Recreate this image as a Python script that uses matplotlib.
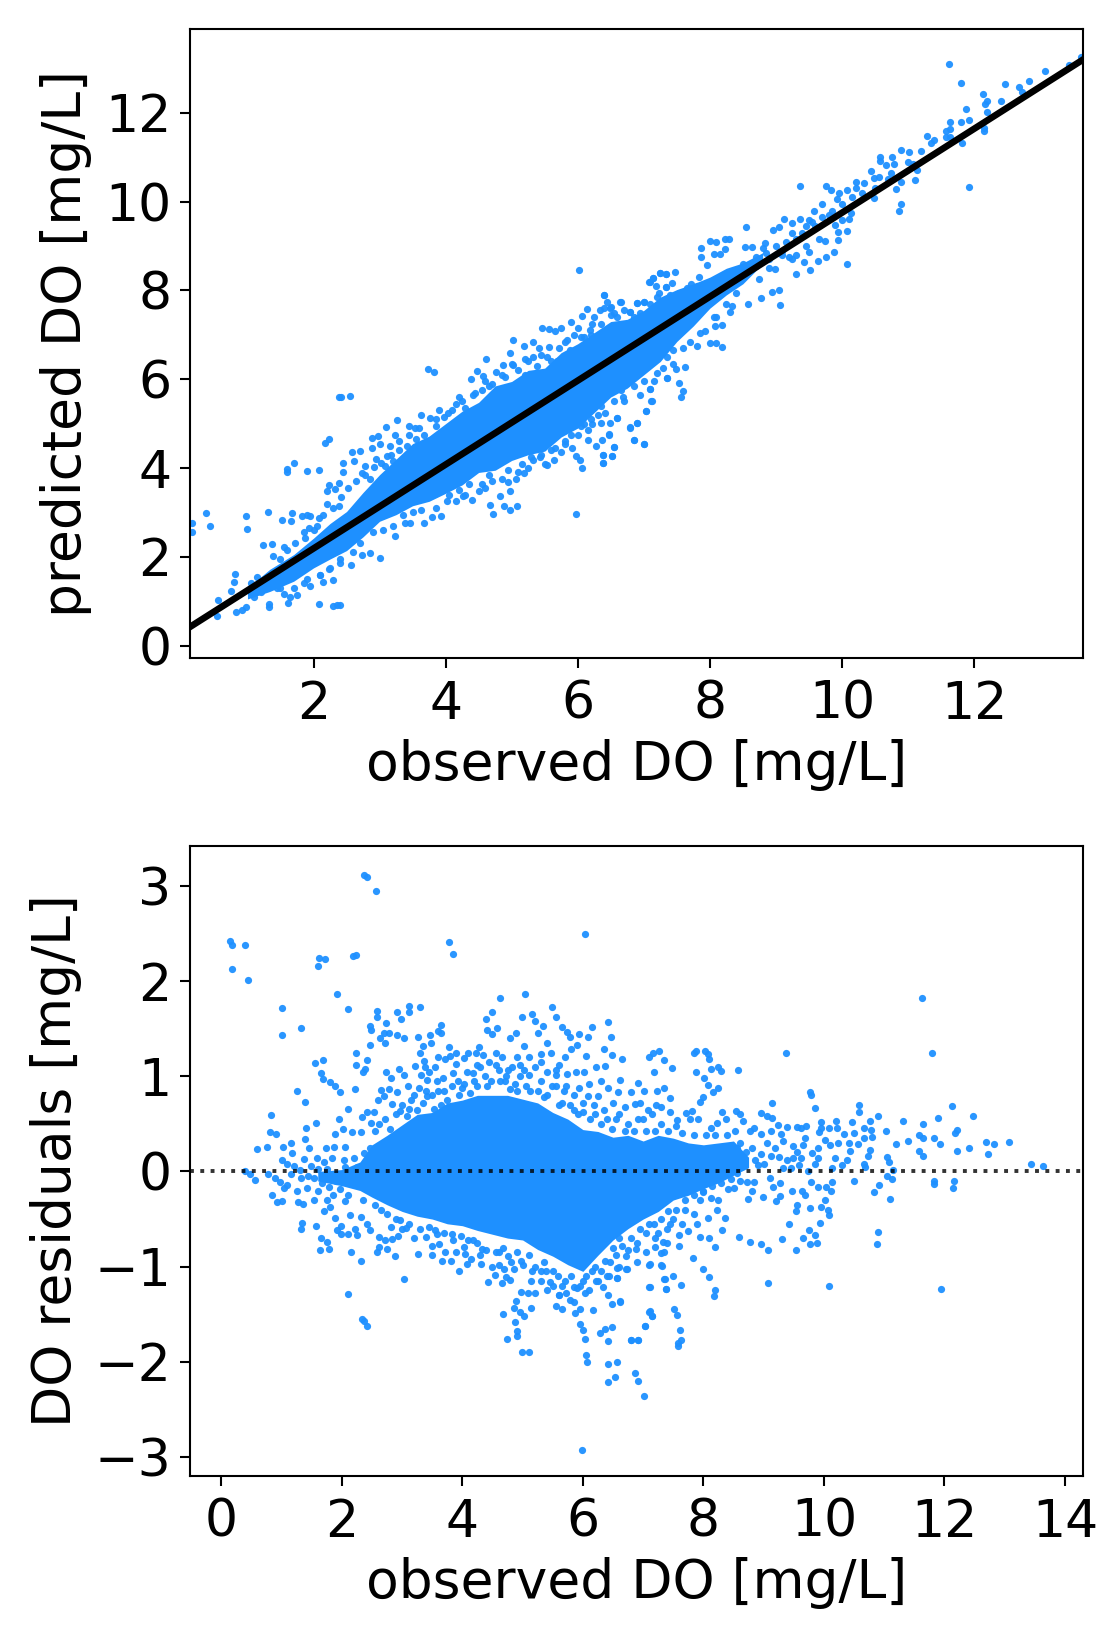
"""Observed vs predicted DO and residuals, two stacked scatter panels."""
import matplotlib
matplotlib.use("Agg")
import matplotlib.pyplot as plt

BLUE = "dodgerblue"
W, H = 1106, 1626

# ── Top panel: fit line ends ─────────────────────────────────────────────────
fit_obs = [0.13, 13.65]
fit_pred = [0.42, 13.2]

# ── Top panel: solid part of the cloud ───────────────────────────────────────
core_obs = [1.0, 1.34, 1.7, 2.0, 2.25, 2.5, 2.75, 3.0, 3.25, 3.5, 3.75, 4.0, 4.25, 4.5, 4.75, 5.0,
            5.25, 5.5, 5.75, 6.0, 6.25, 6.5, 6.75, 7.0, 7.25, 7.5, 7.75, 8.0, 8.25, 8.5, 8.8]
core_hi = [1.3, 1.72, 2.05, 2.42, 2.75, 3.02, 3.45, 3.85, 4.2, 4.55, 4.72, 5.0, 5.28, 5.48, 5.85, 5.95,
           6.2, 6.25, 6.6, 6.8, 7.05, 7.3, 7.35, 7.55, 7.85, 8.02, 8.15, 8.3, 8.5, 8.62, 8.85]
core_lo = [1.05, 1.22, 1.45, 1.75, 1.95, 2.14, 2.45, 2.8, 2.95, 3.15, 3.25, 3.43, 3.62, 3.9, 3.95, 4.17,
           4.3, 4.38, 4.7, 4.9, 5.25, 5.6, 5.8, 6.1, 6.4, 6.85, 7.2, 7.6, 7.9, 8.15, 8.6]

# ── Top panel: single points ─────────────────────────────────────────────────
top_low = [(0.16, 2.77), (0.16, 2.55), (0.37, 2.99), (0.43, 2.69), (0.56, 1.03), (0.54, 0.67), (0.81, 1.61),
           (0.79, 1.43), (0.75, 1.22), (0.83, 0.76), (0.91, 0.81), (0.98, 0.87), (0.98, 2.91), (1.0, 2.63),
           (1.31, 3.0), (1.23, 2.27), (1.37, 2.28), (1.55, 2.23), (1.53, 2.84), (1.67, 2.99), (1.66, 2.8),
           (1.82, 2.91), (1.9, 2.94), (1.95, 2.91), (2.09, 2.88), (1.93, 2.64), (2.0, 2.6), (1.87, 2.42),
           (1.39, 2.02), (1.32, 0.93), (1.32, 0.87), (1.55, 1.16), (1.64, 1.1), (1.75, 1.13), (1.61, 0.95),
           (2.09, 0.93), (2.3, 0.89), (2.35, 0.91), (2.4, 0.91), (2.3, 1.47), (2.14, 1.43), (2.23, 1.73),
           (2.56, 1.82), (3.01, 1.98), (2.86, 2.08), (2.73, 2.05), (3.24, 2.46), (1.05, 1.4), (1.15, 1.55),
           (1.2, 1.2), (1.1, 1.1), (1.45, 1.3), (1.85, 1.4), (1.95, 1.35), (2.1, 1.6), (2.4, 1.95)]
top_up = [(2.38, 5.61), (2.41, 5.61), (2.55, 5.63), (3.74, 6.22), (3.83, 6.17), (2.17, 4.57), (2.24, 4.65),
          (1.6, 3.98), (1.6, 3.92), (1.71, 4.11), (1.9, 3.93), (2.09, 3.95), (2.45, 4.12), (2.45, 3.92),
          (2.23, 3.61), (2.2, 3.48), (2.39, 3.66), (2.33, 3.52), (2.2, 3.2), (2.38, 3.14), (2.58, 4.35),
          (2.71, 4.38), (2.62, 4.15), (2.73, 3.89), (2.78, 3.84), (2.89, 4.67), (2.98, 4.72), (3.1, 4.92),
          (3.27, 5.09), (3.24, 4.74), (2.89, 4.44), (3.0, 4.53), (3.11, 4.28), (3.02, 4.12), (2.91, 4.03),
          (3.16, 4.49), (3.45, 4.95), (3.54, 4.9), (3.62, 5.2), (3.77, 5.13), (4.03, 5.25), (4.25, 5.5),
          (4.39, 6.0), (4.47, 6.19), (4.56, 6.08), (4.61, 6.46), (4.77, 6.17), (4.87, 6.33), (5.02, 6.88),
          (4.97, 6.6), (5.02, 6.33), (5.18, 6.74), (5.33, 6.83), (5.41, 6.71), (5.33, 6.51), (5.46, 7.15),
          (5.56, 7.13), (5.66, 7.09), (5.75, 7.15), (5.56, 6.72), (5.53, 6.51), (5.69, 6.42), (5.84, 6.88),
          (5.9, 7.29), (6.06, 7.43), (6.14, 7.59), (6.02, 8.47), (6.22, 7.25), (6.33, 7.55), (6.4, 7.89),
          (6.44, 7.75), (6.49, 7.61), (6.64, 7.73), (6.79, 7.52), (6.9, 7.72), (7.0, 7.73), (7.09, 8.18),
          (7.14, 8.29), (7.24, 8.4), (7.33, 8.38), (7.23, 7.95), (7.33, 8.08), (6.4, 7.6), (6.55, 7.5),
          (6.85, 7.4), (5.95, 7.0), (6.1, 6.95), (6.25, 7.4), (5.25, 6.4), (4.85, 6.1), (4.65, 5.85),
          (4.45, 5.7), (4.15, 5.45), (3.9, 5.3), (3.45, 4.75), (3.3, 4.6)]
top_under = [(5.97, 2.97), (6.06, 4.0), (6.03, 4.17), (6.39, 4.12), (6.52, 4.28), (6.39, 4.3), (6.55, 4.47),
             (6.37, 4.62), (6.28, 4.5), (6.15, 4.63), (6.47, 4.76), (6.85, 4.63), (7.01, 4.53), (6.9, 5.01),
             (6.79, 4.92), (6.6, 5.13), (6.42, 5.25), (6.21, 4.99), (6.35, 5.01), (6.49, 5.01), (7.03, 5.28),
             (7.12, 5.5), (7.09, 5.77), (7.35, 6.02), (6.69, 5.59), (5.08, 3.15), (4.98, 3.06), (4.72, 2.97),
             (4.67, 3.17), (4.88, 3.15), (4.83, 3.38), (4.98, 3.48), (5.06, 3.75), (5.18, 3.89), (4.95, 3.68),
             (4.7, 3.71), (4.5, 3.48), (4.4, 3.27), (3.93, 2.92), (3.79, 2.9), (3.67, 2.77), (3.39, 2.77),
             (3.46, 2.77), (4.15, 3.25), (4.02, 3.25), (4.27, 3.38), (5.32, 4.18), (5.43, 4.24), (5.53, 4.07),
             (5.64, 4.17), (5.91, 4.44), (5.97, 4.26), (5.8, 4.6), (5.65, 4.45), (6.1, 5.0), (6.0, 4.75)]
top_high_obs = [(11.62, 13.1), (11.8, 12.67), (12.13, 12.43), (12.47, 12.65), (12.68, 12.59), (12.72, 12.48),
                (12.83, 12.71), (13.07, 12.95), (13.44, 13.09), (13.62, 13.25), (12.41, 12.27), (12.2, 12.27),
                (12.17, 12.19), (12.2, 12.03), (11.88, 12.08), (11.93, 11.85), (11.81, 11.79), (11.64, 11.79),
                (11.63, 11.63), (11.57, 11.6), (11.57, 11.46), (11.64, 11.45), (11.29, 11.49), (11.39, 11.39),
                (11.35, 11.33), (11.2, 11.15), (11.01, 11.13), (10.9, 11.16), (10.76, 11.0), (10.79, 10.85),
                (10.58, 11.0), (10.58, 10.91), (10.66, 10.83), (10.74, 10.65), (10.44, 10.68), (10.56, 10.56),
                (10.48, 10.53), (10.21, 10.45), (10.33, 10.41), (10.08, 10.26), (10.22, 10.3), (9.96, 10.19),
                (9.93, 10.07), (9.37, 10.36), (9.76, 10.35), (9.84, 10.26), (12.15, 11.67), (12.15, 11.59),
                (11.82, 11.33), (11.93, 10.32), (11.1, 10.49), (11.13, 10.71), (11.07, 10.86), (10.9, 10.45),
                (10.82, 10.29), (10.48, 10.08), (10.89, 9.94), (10.87, 9.79), (10.13, 9.75), (10.11, 9.61),
                (10.0, 9.59), (9.9, 9.47), (10.08, 9.35), (9.94, 9.14), (9.94, 9.32), (10.08, 8.6), (9.88, 8.87),
                (9.76, 8.75), (9.64, 8.67), (9.52, 8.46), (9.42, 8.63), (9.3, 8.36), (9.5, 8.86), (9.75, 9.11),
                (9.65, 9.17), (9.46, 9.01)]
top_band = [(9.07, 7.67), (9.05, 8.02), (8.94, 7.97), (8.77, 7.82), (8.58, 7.69), (8.74, 8.25), (8.99, 8.49),
            (8.34, 7.66), (8.3, 7.51), (8.19, 7.22), (8.08, 7.21), (8.06, 7.41), (7.93, 7.09), (8.18, 6.73),
            (8.09, 6.81), (8.0, 6.81), (7.81, 6.75), (7.62, 6.28), (7.49, 6.23), (7.29, 6.25), (7.35, 6.02),
            (7.53, 5.91), (7.6, 5.74), (7.57, 5.61), (7.1, 5.77), (7.11, 5.5), (7.03, 5.29), (6.6, 5.13),
            (6.9, 5.01), (6.79, 4.91), (6.85, 4.62), (7.01, 4.54), (6.55, 4.47), (6.47, 4.75), (6.52, 4.26),
            (6.39, 4.29), (6.38, 4.11), (8.55, 9.44), (7.86, 8.96), (8.01, 9.12), (8.09, 9.1), (8.23, 9.16),
            (8.29, 9.17), (7.87, 8.75), (8.06, 8.81), (8.15, 8.81), (8.23, 8.94), (8.54, 8.99), (8.64, 8.97),
            (8.84, 9.08), (8.95, 9.36), (9.13, 9.62), (9.04, 9.42), (9.37, 9.6), (9.25, 9.51), (9.5, 9.59),
            (9.58, 9.8), (9.7, 9.94), (7.96, 8.57), (7.48, 8.42), (7.34, 8.37), (7.24, 8.39), (7.14, 8.28),
            (7.08, 8.18), (7.18, 8.09), (7.42, 8.16), (7.33, 8.07), (6.4, 7.89), (6.65, 7.73), (6.9, 7.72),
            (7.0, 7.73), (6.5, 7.63), (6.79, 7.52), (7.71, 8.15), (7.83, 8.31), (7.55, 7.94), (8.4, 8.4),
            (8.5, 8.6), (8.7, 8.75), (8.85, 8.85), (8.9, 8.7), (9.0, 9.0), (9.1, 8.9), (9.15, 9.1), (9.25, 9.3),
            (9.3, 9.15), (9.4, 9.3), (9.45, 9.45), (9.55, 9.55), (9.6, 9.45), (9.7, 9.65), (9.8, 9.7),
            (9.85, 9.8), (10.0, 9.95), (10.15, 10.1), (10.3, 10.2), (10.5, 10.3), (10.7, 10.5), (11.0, 10.9),
            (9.1, 8.8), (9.2, 8.75), (9.3, 8.8), (9.25, 8.7), (9.05, 8.85), (8.8, 8.95), (8.7, 8.55), (8.9, 8.5)]
top_belt_hi = [(1.5, 1.95), (1.6, 2.15), (1.72, 2.3), (1.85, 2.55), (2.05, 2.7), (2.15, 2.95), (2.3, 3.1),
               (2.42, 3.35), (2.52, 3.55), (2.65, 3.7), (2.78, 4.05), (2.85, 3.75), (2.95, 4.2), (3.08, 4.05),
               (3.18, 4.3), (3.3, 4.4), (3.42, 4.5), (3.55, 4.65), (3.68, 4.75), (3.85, 4.95), (3.98, 5.15),
               (4.1, 5.3), (4.3, 5.35), (4.42, 5.65), (4.55, 5.75), (4.7, 5.9), (4.9, 6.05), (5.1, 6.2),
               (5.2, 6.1), (5.38, 6.3), (5.6, 6.4), (5.72, 6.7), (5.88, 6.65), (6.05, 6.95), (6.18, 7.1),
               (6.35, 7.25), (6.6, 7.4), (6.7, 7.55), (6.95, 7.5), (7.1, 7.7), (7.2, 7.85), (7.4, 7.9),
               (7.65, 8.05), (7.8, 8.1), (3.6, 4.9), (3.85, 5.1), (4.2, 5.6), (4.6, 5.95), (5.0, 6.35),
               (5.2, 6.45), (5.45, 6.55), (5.8, 6.85), (6.0, 7.15), (6.2, 7.0), (6.5, 7.45), (3.2, 4.15)]
top_belt_lo = [(1.5, 1.3), (1.7, 1.3), (1.9, 1.5), (2.1, 1.6), (2.25, 1.75), (2.4, 1.85), (2.6, 2.1), (2.7, 2.3),
               (2.9, 2.55), (3.05, 2.6), (3.2, 2.7), (3.35, 2.95), (3.5, 3.0), (3.62, 3.05), (3.85, 3.1),
               (4.05, 3.4), (4.2, 3.5), (4.35, 3.65), (4.55, 3.65), (4.65, 3.85), (4.85, 3.75), (4.95, 3.95),
               (5.15, 4.1), (5.3, 4.25), (5.45, 4.3), (5.6, 4.4), (5.8, 4.55), (5.9, 4.75), (6.05, 4.95),
               (6.2, 5.1), (6.35, 5.4), (6.55, 5.5), (6.65, 5.75), (6.85, 5.85), (7.0, 5.95), (7.2, 6.15),
               (7.35, 6.5), (7.45, 6.65), (7.6, 6.7), (7.7, 6.85), (7.85, 7.05), (8.1, 7.4), (8.25, 7.7),
               (8.4, 7.95), (5.1, 3.9), (5.25, 4.0), (5.5, 4.1), (5.75, 4.35), (6.15, 4.85), (6.3, 5.2),
               (6.7, 5.5), (6.95, 5.65), (7.15, 5.95), (7.45, 6.35), (4.6, 3.55), (4.3, 3.4)]

# ── Bottom panel: solid part of the cloud ────────────────────────────────────
res_core_obs = [1.6, 2.0, 2.3, 2.5, 2.75, 3.0, 3.25, 3.5, 3.75, 4.0, 4.25, 4.5, 4.75, 5.0, 5.25, 5.5,
                5.75, 6.0, 6.25, 6.5, 6.75, 7.0, 7.25, 7.5, 7.75, 8.0, 8.25, 8.5, 8.75]
res_core_hi = [0.0, 0.02, 0.1, 0.28, 0.38, 0.49, 0.6, 0.62, 0.72, 0.75, 0.8, 0.8, 0.8, 0.76, 0.72, 0.62,
               0.55, 0.44, 0.42, 0.36, 0.38, 0.32, 0.38, 0.35, 0.3, 0.28, 0.3, 0.32, 0.15]
res_core_lo = [-0.1, -0.15, -0.2, -0.27, -0.35, -0.42, -0.47, -0.5, -0.55, -0.57, -0.62, -0.66, -0.7, -0.72, -0.82, -0.89,
               -0.98, -1.05, -0.88, -0.72, -0.6, -0.5, -0.42, -0.3, -0.25, -0.18, -0.12, -0.04, 0.04]

# ── Bottom panel: single points ──────────────────────────────────────────────
res_up = [(2.37, 3.12), (2.41, 3.09), (2.57, 2.95), (0.15, 2.42), (0.17, 2.38), (0.4, 2.38), (0.17, 2.13),
          (0.45, 2.01), (1.62, 2.24), (1.72, 2.23), (1.6, 2.16), (2.19, 2.26), (2.24, 2.27), (3.77, 2.41),
          (3.84, 2.29), (6.03, 2.5), (5.04, 1.87), (4.63, 1.82), (1.92, 1.86), (2.11, 1.71), (1.01, 1.72),
          (1.01, 1.43), (1.32, 1.51), (2.59, 1.69), (2.58, 1.62), (2.92, 1.68), (2.98, 1.6), (3.11, 1.74),
          (3.12, 1.68), (3.29, 1.73), (2.73, 1.56), (2.47, 1.53), (2.48, 1.49), (2.7, 1.46), (2.78, 1.45),
          (2.63, 1.4), (2.72, 1.35), (2.47, 1.33), (2.91, 1.43), (3.03, 1.4), (3.26, 1.41), (3.47, 1.43),
          (3.64, 1.54), (3.6, 1.48), (3.65, 1.45), (3.48, 1.35), (3.78, 1.31), (4.4, 1.6), (4.5, 1.68),
          (4.41, 1.49), (4.5, 1.44), (4.57, 1.51), (4.79, 1.4), (4.89, 1.46), (4.99, 1.62), (5.02, 1.32),
          (5.15, 1.65), (5.2, 1.58), (5.25, 1.46), (5.33, 1.53), (5.49, 1.73), (5.56, 1.62), (5.65, 1.52),
          (5.74, 1.47), (5.78, 1.41), (5.93, 1.44), (6.08, 1.41), (6.15, 1.52), (6.42, 1.57), (6.46, 1.41),
          (6.35, 1.29), (6.48, 1.22), (6.65, 1.18), (5.4, 1.35), (5.47, 1.24), (5.31, 1.23), (5.8, 1.29),
          (5.9, 1.33), (6.05, 1.21), (7.09, 1.2), (7.16, 1.25), (7.26, 1.27), (7.35, 1.17)]
res_mid = [(2.24, 1.24), (2.24, 1.12), (2.42, 1.17), (2.39, 1.08), (2.35, 1.05), (1.56, 1.14), (1.69, 1.17),
           (1.65, 1.03), (1.69, 0.97), (1.81, 0.94), (1.89, 0.9), (1.97, 0.83), (2.22, 0.87), (1.25, 0.85),
           (1.39, 0.73), (0.83, 0.59), (1.57, 0.51), (1.4, 0.46), (2.11, 0.66), (1.95, 0.55), (2.02, 0.45),
           (0.81, 0.41), (0.9, 0.39), (1.39, 0.34), (1.89, 0.39), (2.17, 0.41), (2.31, 0.41), (0.59, 0.24),
           (0.75, 0.26), (1.03, 0.26), (1.15, 0.3), (1.45, 0.25), (1.74, 0.25), (1.87, 0.26), (2.06, 0.26),
           (2.34, 0.57), (2.42, 0.62), (2.54, 0.63), (2.49, 0.51), (2.6, 0.75), (2.65, 0.86), (2.79, 0.87),
           (2.74, 1.05), (2.81, 0.98), (2.95, 1.08), (3.03, 1.01), (3.1, 0.9), (2.92, 0.83), (2.7, 0.79),
           (2.84, 0.71), (2.97, 0.64), (3.11, 0.66), (3.22, 1.11), (3.36, 1.16), (3.31, 1.01), (3.42, 0.96),
           (3.28, 0.88), (3.42, 0.79), (3.53, 0.66), (3.72, 1.18), (3.8, 1.21), (4.03, 1.19), (3.9, 1.13),
           (3.68, 0.98), (3.85, 1.03), (4.17, 1.03), (4.28, 1.31), (4.22, 1.24), (4.44, 1.15), (4.61, 1.07),
           (4.76, 1.07), (5.02, 1.07), (5.11, 1.01), (4.79, 0.87), (4.41, 0.9), (4.03, 0.92), (5.55, 1.01),
           (5.74, 1.02), (5.88, 1.04), (6.02, 1.05), (6.22, 1.1), (6.37, 1.11), (5.55, 1.07), (6.61, 0.96),
           (6.91, 0.93), (7.01, 0.85), (7.23, 0.85), (7.34, 0.88), (7.22, 0.7), (7.44, 0.77), (6.86, 0.71),
           (5.94, 0.88), (6.08, 0.79), (5.72, 0.9), (5.55, 0.9), (6.41, 0.88), (6.25, 0.79), (6.58, 0.83),
           (6.8, 0.83), (3.2, 0.8), (3.6, 0.85), (3.75, 0.75), (3.95, 0.8), (4.2, 0.95), (4.35, 0.75),
           (4.7, 0.95), (4.9, 0.85), (5.25, 0.85), (5.4, 0.8), (5.65, 0.72), (5.85, 0.65), (6.0, 0.62),
           (6.2, 0.6), (6.4, 0.55), (6.6, 0.6), (6.75, 0.5), (7.0, 0.55), (7.15, 0.6)]
res_zero = [(0.39, 0.0), (0.48, -0.03), (0.56, -0.09), (0.78, -0.03), (0.89, -0.07), (0.98, -0.11), (1.09, -0.14),
            (1.04, -0.17), (0.84, -0.25), (0.93, -0.32), (1.01, -0.31), (1.28, -0.32), (1.35, -0.34), (1.53, -0.3),
            (1.25, -0.21), (1.42, -0.17), (1.32, -0.07), (1.2, 0.06), (1.09, 0.08), (1.0, 0.12), (1.17, 0.19),
            (1.38, 0.13), (1.48, 0.06), (1.59, 0.14), (1.7, 0.1), (1.84, 0.14), (2.03, 0.12), (2.2, 0.14),
            (2.36, 0.19), (2.47, 0.25), (1.53, -0.07), (1.67, -0.12), (1.78, -0.16), (1.97, -0.18), (2.14, -0.12),
            (2.31, -0.12), (1.61, -0.2), (1.86, -0.25), (1.3, 0.02), (1.43, -0.05), (1.6, 0.03), (1.75, 0.03),
            (2.05, 0.05), (2.25, 0.05), (1.15, -0.03), (1.9, -0.1), (2.1, -0.25), (2.35, -0.3), (1.75, -0.3)]
res_down = [(1.34, -0.54), (1.33, -0.6), (1.57, -0.57), (1.65, -0.7), (1.63, -0.82), (1.75, -0.74), (1.78, -0.81),
            (1.71, -0.42), (1.8, -0.37), (1.89, -0.49), (1.92, -0.61), (1.99, -0.57), (1.99, -0.66), (2.11, -0.66),
            (2.22, -0.6), (2.25, -0.67), (2.14, -0.46), (2.06, -0.31), (2.31, -0.48), (2.42, -0.55), (2.47, -0.61),
            (2.61, -0.69), (2.16, -0.85), (2.31, -0.94), (2.58, -0.85), (2.61, -0.79), (2.75, -0.81), (2.72, -0.72),
            (2.83, -0.71), (2.93, -0.68), (2.81, -0.58), (2.97, -0.51), (3.06, -0.59), (2.88, -0.89), (3.26, -0.87),
            (3.03, -1.13), (2.1, -1.29), (2.33, -1.55), (2.37, -1.57), (2.42, -1.62), (3.4, -0.69), (3.49, -0.78),
            (3.58, -0.66), (3.61, -0.76), (3.83, -0.66), (3.72, -0.85), (3.67, -0.94), (3.81, -0.94), (3.95, -1.05),
            (4.03, -0.79), (4.05, -0.87), (4.15, -0.92), (4.07, -0.97), (4.31, -0.97), (4.33, -0.81), (4.17, -0.72),
            (4.5, -1.0), (4.54, -1.09), (4.42, -1.16), (4.65, -1.17), (4.79, -1.14), (4.72, -1.11), (4.69, -1.02),
            (4.86, -1.02), (4.61, -0.85), (4.75, -0.89), (4.97, -0.94), (5.16, -1.05), (5.14, -1.15), (4.97, -1.27),
            (5.09, -1.28), (5.21, -1.28), (4.89, -1.36), (4.85, -1.43), (4.96, -1.48), (5.03, -1.52), (4.68, -1.5),
            (4.88, -1.58), (4.9, -1.68), (4.91, -1.73), (4.74, -1.76), (4.99, -1.9), (5.1, -1.9), (5.14, -1.43),
            (5.45, -1.16), (5.55, -1.41), (5.65, -1.44), (5.61, -1.3), (5.86, -1.21), (5.86, -1.37), (5.95, -1.44),
            (5.87, -1.49), (5.95, -1.6), (6.0, -1.67), (6.03, -1.76), (6.06, -1.93), (6.07, -2.0), (5.99, -2.93),
            (6.04, -1.28), (6.16, -1.46), (6.22, -1.15), (6.33, -1.21), (6.41, -1.3), (6.57, -1.12), (6.43, -1.1),
            (6.61, -1.37), (6.49, -1.39), (6.48, -1.63), (6.36, -1.66), (6.29, -1.7), (6.42, -1.78), (6.41, -2.02),
            (6.57, -2.0), (6.53, -2.16), (6.41, -2.21), (6.86, -2.12), (6.91, -2.2), (7.02, -2.36), (6.8, -1.77),
            (6.91, -1.77), (7.03, -1.62), (7.1, -1.48), (7.14, -1.52), (7.1, -1.21), (7.38, -1.24), (7.35, -1.13),
            (7.1, -0.98), (7.3, -0.98), (6.74, -1.02), (6.88, -0.81), (7.19, -0.79), (7.35, -0.85), (6.36, -0.94),
            (6.72, -0.89), (6.5, -0.8), (6.3, -0.75), (5.35, -0.95), (5.3, -1.05), (5.7, -1.15), (5.95, -1.2),
            (6.15, -1.05), (6.05, -1.1), (6.6, -0.7), (6.95, -0.6), (7.1, -0.55), (7.25, -0.65), (7.45, -0.55)]
res_right = [(11.63, 1.82), (11.8, 1.24), (9.37, 1.24), (7.85, 1.25), (7.88, 1.27), (8.02, 1.27), (8.07, 1.23),
             (8.1, 1.18), (8.13, 1.08), (8.24, 1.1), (8.3, 1.06), (8.58, 1.07), (7.88, 1.04), (8.01, 0.98),
             (8.08, 0.91), (8.24, 0.88), (8.16, 0.83), (7.99, 0.78), (7.95, 0.73), (7.48, 1.09), (7.18, 1.04),
             (9.77, 0.84), (9.78, 0.8), (9.85, 0.67), (9.14, 0.72), (10.59, 0.7), (10.58, 0.62), (10.9, 0.58),
             (12.12, 0.69), (12.47, 0.58), (11.89, 0.56), (11.31, 0.53), (11.65, 0.5), (12.21, 0.44), (12.18, 0.4),
             (11.03, 0.43), (12.69, 0.31), (12.83, 0.29), (13.07, 0.31), (12.72, 0.18), (12.41, 0.25), (12.21, 0.21),
             (11.93, 0.29), (11.82, 0.35), (11.64, 0.35), (11.57, 0.38), (11.4, 0.32), (11.2, 0.29), (11.58, 0.21),
             (11.64, 0.16), (11.05, 0.15), (11.08, 0.1), (11.15, 0.02), (13.44, 0.08), (13.63, 0.06), (11.82, -0.1),
             (11.82, -0.13), (12.16, -0.1), (12.15, -0.17), (11.05, -0.05), (11.13, -0.08), (10.91, -0.14),
             (10.83, -0.22), (11.1, -0.29), (10.5, -0.1), (10.9, -0.64), (10.88, -0.76), (11.94, -1.24), (10.08, -1.2),
             (9.07, -1.17)]
res_band = [(10.77, 0.53), (10.67, 0.46), (10.78, 0.44), (10.79, 0.36), (10.67, 0.35), (10.57, 0.29), (10.76, 0.23),
            (10.74, 0.16), (10.66, 0.08), (10.68, 0.05), (10.5, 0.4), (10.46, 0.52), (10.33, 0.39), (10.22, 0.46),
            (10.2, 0.53), (10.08, 0.46), (9.95, 0.52), (9.95, 0.46), (9.92, 0.41), (10.02, 0.33), (10.1, 0.28),
            (10.24, 0.3), (10.41, 0.3), (10.43, 0.21), (10.38, 0.12), (10.19, 0.14), (10.13, 0.04), (9.91, 0.25),
            (9.91, 0.14), (9.8, 0.19), (9.66, 0.28), (9.71, 0.48), (9.62, 0.46), (9.56, 0.47), (9.38, 0.47),
            (9.24, 0.49), (9.14, 0.56), (9.05, 0.58), (8.96, 0.61), (8.84, 0.46), (8.77, 0.42), (8.54, 0.64),
            (8.6, 0.6), (8.65, 0.53), (8.31, 0.62), (8.38, 0.55), (8.23, 0.51), (8.52, 0.42), (8.13, 0.46),
            (7.91, 0.55), (7.77, 0.55), (7.81, 0.64), (7.71, 0.61), (7.57, 0.54), (7.55, 0.48), (7.44, 0.62),
            (7.08, 0.65), (8.96, 0.39), (9.13, 0.42), (9.29, 0.39), (9.32, 0.32), (9.49, 0.27), (9.69, 0.35),
            (9.19, 0.25), (9.38, 0.12), (9.49, 0.14), (8.96, 0.18), (8.91, 0.07), (9.13, 0.16), (9.32, 0.04),
            (9.46, 0.04), (9.74, 0.0), (9.58, 0.07), (8.8, 0.25), (8.85, 0.12), (9.05, 0.3), (9.0, 0.08),
            (9.25, 0.15), (9.55, 0.2), (9.62, 0.14), (9.85, 0.08), (10.3, 0.07), (8.6, 0.3), (8.7, 0.2)]
res_under = [(9.11, -0.07), (9.16, -0.16), (9.27, -0.12), (8.84, -0.11), (8.73, -0.11), (8.61, -0.1), (8.81, -0.21),
             (8.74, -0.29), (8.99, -0.27), (9.2, -0.31), (9.27, -0.26), (9.47, -0.21), (9.63, -0.2), (9.69, -0.25),
             (9.79, -0.11), (9.91, -0.16), (10.03, -0.16), (10.12, -0.21), (10.14, -0.11), (10.01, -0.3),
             (9.96, -0.37), (9.77, -0.38), (9.55, -0.35), (9.53, -0.42), (10.06, -0.41), (10.09, -0.46), (9.94, -0.54),
             (9.42, -0.55), (9.75, -0.62), (9.85, -0.67), (9.65, -0.7), (9.77, -0.76), (9.89, -0.75), (9.53, -0.82),
             (9.31, -0.71), (9.07, -0.83), (8.96, -0.76), (8.77, -0.74), (8.59, -0.69), (8.36, -0.49), (8.31, -0.61),
             (8.24, -0.3), (8.13, -0.28), (8.23, -0.4), (8.07, -0.49), (7.94, -0.69), (8.09, -0.7), (8.2, -0.79),
             (7.83, -0.91), (7.99, -1.02), (8.09, -1.11), (8.19, -1.25), (8.18, -1.31), (7.63, -1.19), (7.38, -1.23),
             (7.36, -1.13), (7.49, -1.1), (7.11, -1.21), (7.31, -0.99), (7.12, -0.97), (7.6, -0.78), (7.3, -0.86),
             (7.33, -0.74), (7.75, -0.63), (7.59, -0.67), (8.41, -0.18), (8.51, -0.17), (7.52, -1.45), (7.57, -1.51),
             (7.62, -1.67), (7.63, -1.77), (7.58, -1.8), (7.58, -1.83), (7.11, -1.47), (7.14, -1.52), (7.03, -1.62),
             (6.8, -1.77), (6.91, -1.77), (6.61, -1.36), (6.56, -1.12), (6.72, -1.03), (6.56, -1.01), (7.85, -0.45),
             (7.7, -0.4), (7.95, -0.3), (8.0, -0.2), (7.5, -0.5), (7.4, -0.6), (7.65, -0.55), (7.9, -0.55)]
res_belt_hi = [(2.55, 0.42), (2.62, 0.5), (2.72, 0.55), (2.8, 0.45), (2.9, 0.6), (3.0, 0.7), (3.08, 0.58), (3.15, 0.75),
               (3.25, 0.65), (3.35, 0.72), (3.4, 0.85), (3.5, 0.8), (3.58, 0.95), (3.65, 0.7), (3.7, 0.85), (3.82, 0.9),
               (3.92, 0.95), (4.0, 0.88), (4.08, 1.05), (4.12, 0.82), (4.25, 0.9), (4.3, 1.1), (4.38, 1.0), (4.48, 0.95),
               (4.55, 1.12), (4.62, 0.95), (4.72, 1.0), (4.82, 1.1), (4.88, 0.92), (4.95, 1.0), (5.05, 0.9), (5.12, 0.85),
               (5.2, 1.1), (5.3, 0.95), (5.36, 0.78), (5.48, 0.9), (5.6, 0.7), (5.68, 0.85), (5.78, 0.7), (5.92, 0.6),
               (6.0, 0.72), (6.12, 0.55), (6.18, 0.7), (6.3, 0.5), (6.35, 0.65), (6.48, 0.45), (6.55, 0.55), (6.7, 0.42),
               (6.85, 0.42), (6.92, 0.55), (7.05, 0.42), (7.2, 0.42), (7.3, 0.5), (7.42, 0.42), (7.65, 0.4), (7.85, 0.38),
               (8.05, 0.38), (8.2, 0.38), (8.4, 0.38), (8.55, 0.25), (3.3, 1.25), (3.35, 1.32), (3.38, 1.1), (3.55, 1.1),
               (3.45, 1.05), (3.6, 1.2), (3.9, 1.25), (4.1, 1.25), (4.25, 1.12), (4.35, 1.22), (4.55, 1.25), (4.65, 1.2),
               (4.9, 1.2), (4.95, 1.12), (5.1, 1.2), (5.3, 1.15), (5.4, 1.05), (5.6, 1.12), (5.7, 1.2), (5.85, 0.8),
               (6.1, 0.92), (6.3, 0.95), (6.5, 0.72), (6.7, 0.68), (6.95, 0.72), (7.3, 0.68)]
res_belt_lo = [(2.55, -0.35), (2.65, -0.4), (2.75, -0.45), (2.9, -0.5), (3.0, -0.6), (3.12, -0.55), (3.2, -0.7),
               (3.3, -0.6), (3.45, -0.58), (3.55, -0.62), (3.7, -0.65), (3.85, -0.72), (3.98, -0.68), (4.1, -0.72),
               (4.25, -0.75), (4.4, -0.82), (4.55, -0.85), (4.68, -0.8), (4.8, -0.95), (4.9, -0.85), (5.0, -0.98),
               (5.1, -0.88), (5.2, -1.0), (5.3, -1.15), (5.38, -1.05), (5.5, -1.2), (5.58, -1.1), (5.65, -1.2),
               (5.72, -1.28), (5.8, -1.1), (5.9, -1.22), (6.0, -1.15), (6.1, -1.25), (6.2, -1.0), (6.3, -1.05),
               (6.45, -0.95), (6.55, -0.88), (6.65, -0.78), (6.8, -0.7), (6.9, -0.75), (7.05, -0.65), (7.18, -0.55),
               (7.3, -0.5), (7.42, -0.42), (7.55, -0.4), (7.7, -0.3), (7.85, -0.25), (8.0, -0.22), (8.15, -0.15),
               (8.3, -0.12), (8.45, -0.08), (8.55, -0.02), (5.4, -1.25), (5.6, -1.3), (5.78, -1.35), (5.5, -1.05),
               (6.25, -1.15), (6.4, -1.1), (6.6, -1.0), (6.75, -0.82), (4.6, -0.98), (4.3, -0.88), (3.9, -0.85),
               (3.5, -0.88), (6.9, -0.95), (7.2, -0.7), (7.4, -0.75), (7.05, -0.85)]

# ── Ticks and labels ─────────────────────────────────────────────────────────
top_xticks = [2, 4, 6, 8, 10, 12]
top_yticks = [0, 2, 4, 6, 8, 10, 12]
res_xticks = [0, 2, 4, 6, 8, 10, 12, 14]
res_yticks = [-3, -2, -1, 0, 1, 2, 3]
xlabel = "observed DO [mg/L]"
top_ylabel = "predicted DO [mg/L]"
res_ylabel = "DO residuals [mg/L]"


def axes_px(fig, left, top, right, bottom):
    return fig.add_axes([left / W, 1 - bottom / H, (right - left) / W, (bottom - top) / H])


def style(ax):
    for spine in ax.spines.values():
        spine.set_linewidth(1.5)
    ax.tick_params(axis="x", labelsize=37.5, length=7, width=1.5, pad=8.5)
    ax.tick_params(axis="y", labelsize=37.5, length=7, width=1.5, pad=6.5)


def dots(ax, *groups):
    for group in groups:
        xs, ys = zip(*group)
        ax.scatter(xs, ys, s=27, color=BLUE, linewidths=0, alpha=0.95, zorder=2)


fig = plt.figure(figsize=(W / 100, H / 100), dpi=100)

# ── Top panel ────────────────────────────────────────────────────────────────
ax = axes_px(fig, 190, 29, 1083, 658)
ax.fill_between(core_obs, core_lo, core_hi, color=BLUE, linewidth=0, zorder=2)
dots(ax, top_low, top_up, top_under, top_high_obs, top_band, top_belt_hi, top_belt_lo)
ax.plot(fit_obs, fit_pred, color="black", lw=4.8, zorder=3)
ax.set_xlim(0.13, 13.65)
ax.set_ylim(-0.28, 13.89)
ax.set_xticks(top_xticks)
ax.set_yticks(top_yticks)
ax.set_xlabel(xlabel, fontsize=38.5, labelpad=7)
ax.set_ylabel(top_ylabel, fontsize=38.5, labelpad=9)
style(ax)

# ── Bottom panel ─────────────────────────────────────────────────────────────
ax = axes_px(fig, 190, 846, 1083, 1476)
ax.fill_between(res_core_obs, res_core_lo, res_core_hi, color=BLUE, linewidth=0, zorder=2)
dots(ax, res_up, res_mid, res_zero, res_down, res_right, res_band, res_under, res_belt_hi, res_belt_lo)
ax.axhline(0, color="black", ls=":", lw=2.8, alpha=0.8, zorder=3)
ax.set_xlim(-0.52, 14.3)
ax.set_ylim(-3.2, 3.42)
ax.set_xticks(res_xticks)
ax.set_yticks(res_yticks)
ax.set_xlabel(xlabel, fontsize=38.5, labelpad=7)
ax.set_ylabel(res_ylabel, fontsize=38.5, labelpad=9)
style(ax)

fig.savefig("out.png", dpi=100)
